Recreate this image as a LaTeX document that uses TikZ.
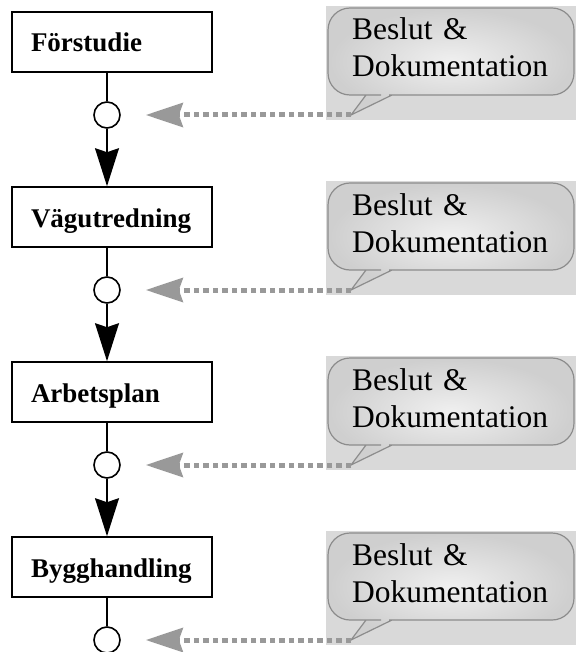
\documentclass[tikz,border=0pt]{standalone}
\usepackage{fontspec}
\setmainfont{Liberation Serif}
\usetikzlibrary{arrows.meta,positioning,calc}

\begin{document}
\begin{tikzpicture}[
    x=1pt, y=1pt,
    node distance=28.4pt,
    stage/.style={rectangle, draw, line width=1.6pt, minimum height=60pt, minimum width=200pt, text width=162pt, inner xsep=19pt, text height=20pt, text depth=0pt, align=left, font=\fontsize{27}{31}\selectfont\bfseries},
    gate/.style={circle, draw, line width=1.6pt, fill=white, minimum size=26pt, inner sep=0pt},
    link/.style={line width=1.6pt},
    flow/.style={line width=1.6pt, -{Stealth[length=38pt, width=24pt, inset=4pt]}},
    feed/.style={draw=gray!80, line width=5pt, dash pattern=on 5.5pt off 4pt, -{Stealth[length=37pt, width=24pt, inset=4pt, fill=gray!80]}, shorten >=25pt},
    note/.style={inner sep=0pt, text width=220pt, align=left, anchor=base west, font=\fontsize{31.5}{37}\selectfont},
    bubble/.style={draw=gray!90, line width=1.2pt, inner color=gray!12, outer color=gray!38}
]
\useasboundingbox (0,0) rectangle (576,-652);

% Stages and decision points
\node[stage] (fs) at (112,-42) {Förstudie};
\node[gate, below=28.4pt of fs, xshift=-5pt] (g1) {};
\node[stage, below=57.4pt of g1, xshift=5pt] (vu) {Vägutredning};
\node[gate, below=28.4pt of vu, xshift=-5pt] (g2) {};
\node[stage, below=57.4pt of g2, xshift=5pt] (ap) {Arbetsplan};
\node[gate, below=28.4pt of ap, xshift=-5pt] (g3) {};
\node[stage, below=57.4pt of g3, xshift=5pt] (bh) {Bygghandling};
\node[gate, below=28.4pt of bh, xshift=-5pt] (g4) {};

\draw[link] (fs.south -| g1) -- (g1.north);
\draw[flow] (g1.south) -- (g1 |- vu.north);
\draw[link] (vu.south -| g2) -- (g2.north);
\draw[flow] (g2.south) -- (g2 |- ap.north);
\draw[link] (ap.south -| g3) -- (g3.north);
\draw[flow] (g3.south) -- (g3 |- bh.north);
\draw[link] (bh.south -| g4) -- (g4.north);

% Callouts
\coordinate (t1) at ($(g1)+(244,0)$);
\coordinate (t2) at ($(g2)+(244,0)$);
\coordinate (t3) at ($(g3)+(244,0)$);
\coordinate (t4) at ($(g4)+(244,0)$);

\foreach \t in {t1,t2,t3,t4} {
  \fill[gray!30] ($(\t)+(-25,-5)$) rectangle ($(\t)+(225,109)$);
  \shade[bubble] ($(\t)+(30,20)$) [rounded corners=22pt] -- ($(\t)+(-23,20)$) -- ($(\t)+(-23,107)$)
    -- ($(\t)+(223,107)$) -- ($(\t)+(223,20)$) -- ($(\t)+(60,20)$) [sharp corners] -- ($(\t)+(41,20)$)
    -- (\t) -- ($(\t)+(15,20)$) -- cycle;
}

\node[note] (n1) at ($(t1)+(1,75)$) {Beslut \&\\Dokumentation};
\node[note] (n2) at ($(t2)+(1,75)$) {Beslut \&\\Dokumentation};
\node[note] (n3) at ($(t3)+(1,75)$) {Beslut \&\\Dokumentation};
\node[note] (n4) at ($(t4)+(1,75)$) {Beslut \&\\Dokumentation};

\draw[feed] (t1) -- (g1.east);
\draw[feed] (t2) -- (g2.east);
\draw[feed] (t3) -- (g3.east);
\draw[feed] (t4) -- (g4.east);

\end{tikzpicture}
\end{document}
